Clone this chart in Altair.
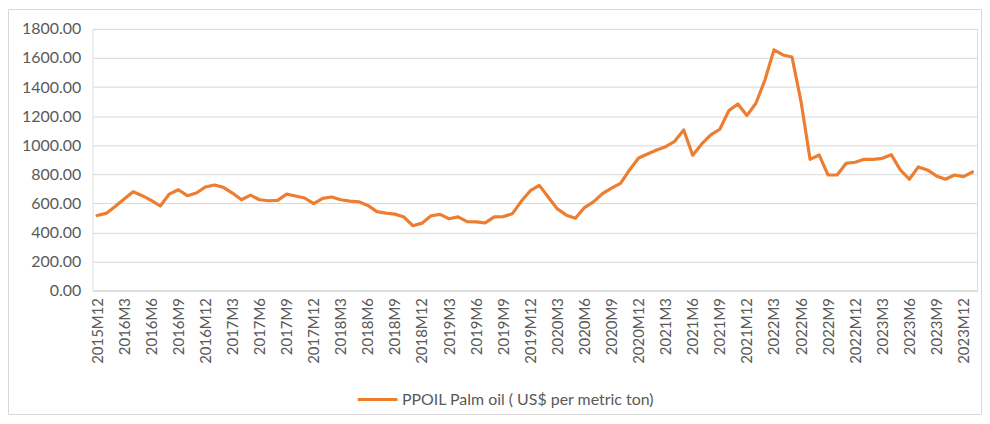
import altair as alt
import pandas as pd

# Monthly categories 2015M12 .. 2024M1
months = ["2015M12"] + [f"{y}M{m}" for y in range(2016, 2024) for m in range(1, 13)] + ["2024M1"]

# PPOIL Palm oil (US$ per metric ton)
values = [
    517, 531, 579, 630, 680, 653, 621, 582, 664, 694, 653, 671,
    713, 726, 710, 671, 625, 657, 625, 618, 621, 664, 651, 637,
    598, 634, 644, 625, 616, 611, 586, 543, 533, 526, 506, 446,
    464, 515, 524, 494, 507, 475, 473, 466, 507, 509, 528, 614,
    687, 724, 642, 562, 519, 498, 571, 610, 667, 705, 738, 830,
    912, 940, 967, 990, 1027, 1105, 931, 1009, 1071, 1110, 1238, 1284,
    1204, 1289, 1449, 1656, 1621, 1607, 1300, 903, 933, 795, 795, 876,
    883, 903, 903, 910, 935, 830, 766, 851, 830, 789, 766, 795,
    784, 816,
]

# Axis tick labels shown (every third month)
tick_labels = months[0:97:3]
y_ticks = [0, 200, 400, 600, 800, 1000, 1200, 1400, 1600, 1800]

series_name = "PPOIL Palm oil ( US$ per metric ton)"

df = pd.DataFrame({"month": months, "value": values, "series": series_name})

FONT = "Lato"
GREY = "#595959"
GRID = "#d9d9d9"

line = alt.Chart(df).mark_line(strokeWidth=3.2, strokeCap="round", strokeJoin="round").encode(
    x=alt.X(
        "month:O",
        sort=months,
        scale=alt.Scale(type="point", padding=0.5),
        axis=alt.Axis(
            title=None,
            values=tick_labels,
            labelAngle=-90,
            labelAlign="right",
            labelBaseline="middle",
            labelPadding=7,
            labelFontSize=15,
            labelColor=GREY,
            labelFont=FONT,
            ticks=False,
            domain=True,
            domainColor=GRID,
            domainWidth=1,
            grid=False,
            labelOverlap=False,
        ),
    ),
    y=alt.Y(
        "value:Q",
        scale=alt.Scale(domain=[0, 1800], nice=False),
        axis=alt.Axis(
            title=None,
            values=y_ticks,
            format=".2f",
            labelFontSize=16,
            labelColor=GREY,
            labelFont=FONT,
            labelPadding=12,
            ticks=False,
            domain=False,
            grid=True,
            gridColor=GRID,
            gridWidth=1,
        ),
    ),
    color=alt.Color(
        "series:N",
        scale=alt.Scale(range=["#ED7D31"]),
        legend=alt.Legend(
            title=None,
            orient="none",
            legendX=265,
            legendY=351,
            symbolType="stroke",
            symbolSize=1600,
            symbolStrokeWidth=3,
            labelFontSize=16,
            labelColor=GREY,
            labelFont=FONT,
            labelOffset=3,
            labelLimit=500,
        ),
    ),
)

frame = alt.Chart(pd.DataFrame({"a": [0]})).mark_rect(
    fill="transparent", stroke=GRID, strokeWidth=1, clip=False
).encode(
    x=alt.value(-84.5), x2=alt.value(893.5), y=alt.value(-19.5), y2=alt.value(387.5)
)

chart = alt.layer(frame, line).properties(
    width=889,
    height=263,
    padding={"left": 85, "top": 20, "right": 5, "bottom": 125},
    autosize=alt.AutoSizeParams(type="none"),
).configure_view(stroke=None).configure(background="white")

chart.save("out.html", embed_options={"renderer": "svg", "actions": False})
